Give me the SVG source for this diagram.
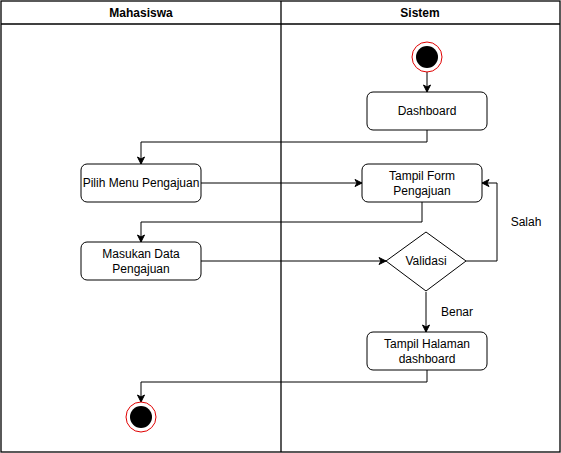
<svg xmlns="http://www.w3.org/2000/svg" width="561" height="453" viewBox="0 0 561 453">
  <style>
    .lane { fill: none; stroke: #000; stroke-width: 1.3; }
    .act { fill: #fff; stroke: #000; stroke-width: 1; }
    .txt { font-family: "Liberation Sans", Arial, sans-serif; font-size: 12px; fill: #000; text-anchor: middle; }
    .hdr { font-weight: bold; }
    .edge { fill: none; stroke: #000; stroke-width: 1; marker-end: url(#arrow); }
    .ring { fill: #fff; stroke: #e00000; stroke-width: 1; }
    .dot { fill: #000; }
  </style>
  <defs>
    <marker id="arrow" markerWidth="10" markerHeight="10" refX="8" refY="5" orient="auto" markerUnits="userSpaceOnUse">
      <path d="M1,1.5 L8,5 L1,8.5 L3,5 Z" fill="#000" stroke="#000" stroke-width="1"/>
    </marker>
  </defs>
  <rect width="561" height="453" fill="#fff"/>

  <!-- swimlanes -->
  <g id="lanes">
    <rect class="lane" x="1" y="1" width="559" height="451"/>
    <line class="lane" x1="1" y1="24" x2="560" y2="24"/>
    <line class="lane" x1="281" y1="1" x2="281" y2="452"/>
    <text class="txt hdr" x="141" y="17">Mahasiswa</text>
    <text class="txt hdr" x="420" y="17">Sistem</text>
  </g>

  <!-- connectors -->
  <g id="connectors">
    <path class="edge" d="M427,71 L427,92"/>
    <path class="edge" d="M427,130 L427,142 L141,142 L141,164"/>
    <path class="edge" d="M201,183 L362,183"/>
    <path class="edge" d="M422,202 L422,222 L141,222 L141,242"/>
    <path class="edge" d="M201,261 L386,261"/>
    <path class="edge" d="M466,261 L497,261 L497,183 L482,183"/>
    <path class="edge" d="M426,292 L426,332"/>
    <path class="edge" d="M427,370 L427,382 L141,382 L141,402"/>
    <text class="txt" x="526" y="226">Salah</text>
    <text class="txt" x="457" y="316">Benar</text>
  </g>

  <g id="start">
    <circle class="ring" cx="427" cy="57" r="15"/>
    <circle class="dot" cx="427" cy="57" r="11"/>
  </g>

  <g id="dashboard">
    <rect class="act" x="367" y="92" width="120" height="38" rx="6"/>
    <text class="txt" x="427" y="115">Dashboard</text>
  </g>

  <g id="pilih-menu">
    <rect class="act" x="81" y="164" width="120" height="38" rx="6"/>
    <text class="txt" x="141" y="187">Pilih Menu Pengajuan</text>
  </g>

  <g id="tampil-form">
    <rect class="act" x="362" y="164" width="120" height="38" rx="6"/>
    <text class="txt" x="422" y="180">Tampil Form</text>
    <text class="txt" x="422" y="195">Pengajuan</text>
  </g>

  <g id="masukan-data">
    <rect class="act" x="81" y="242" width="120" height="38" rx="6"/>
    <text class="txt" x="141" y="258">Masukan Data</text>
    <text class="txt" x="141" y="273">Pengajuan</text>
  </g>

  <g id="validasi">
    <polygon class="act" points="426,232 466,261 426,291 386,261"/>
    <text class="txt" x="426" y="265">Validasi</text>
  </g>

  <g id="tampil-halaman">
    <rect class="act" x="367" y="332" width="120" height="38" rx="6"/>
    <text class="txt" x="427" y="348">Tampil Halaman</text>
    <text class="txt" x="427" y="363">dashboard</text>
  </g>

  <g id="end">
    <circle class="ring" cx="141" cy="417" r="15"/>
    <circle class="dot" cx="141" cy="417" r="11"/>
  </g>
</svg>
